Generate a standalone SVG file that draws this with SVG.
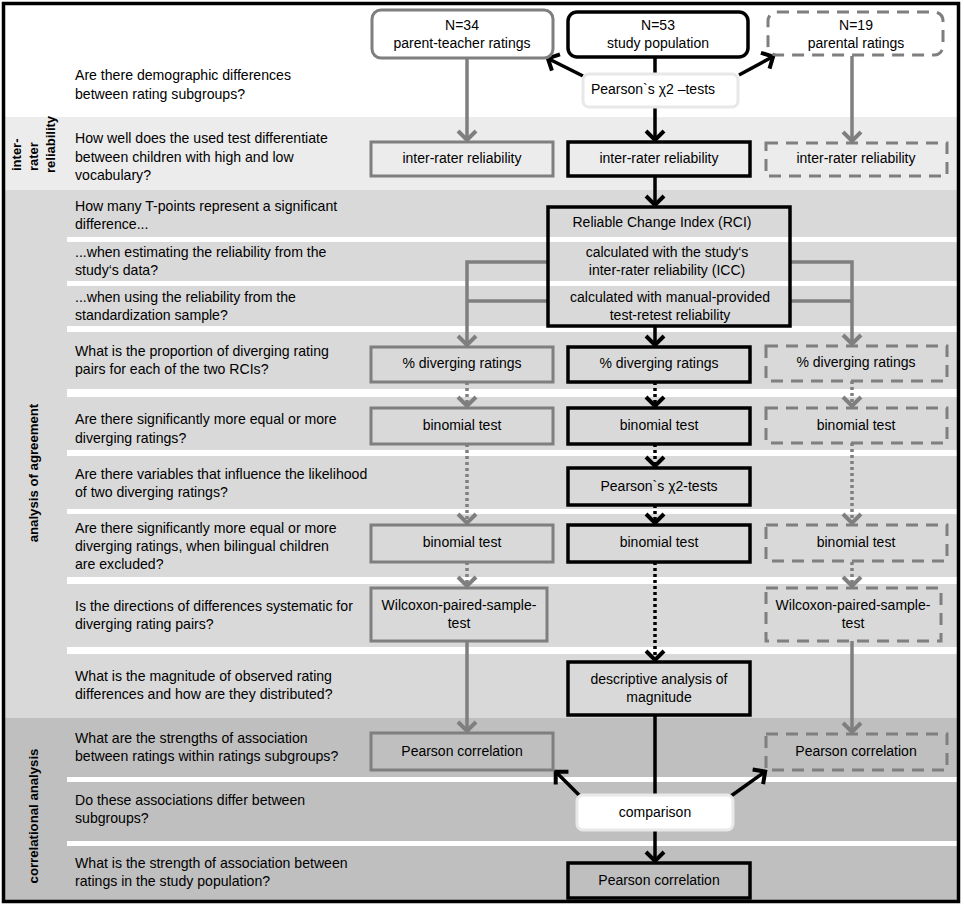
<svg xmlns="http://www.w3.org/2000/svg" width="964" height="908" viewBox="0 0 964 908">
<defs>
<style>
.q{font-family:"Liberation Sans",Arial,sans-serif;font-size:14.1px;fill:#000}
.t{font-family:"Liberation Sans",Arial,sans-serif;font-size:14px;fill:#000;text-anchor:middle}
.lab{font-family:"Liberation Sans",Arial,sans-serif;font-weight:bold;fill:#000}
.bk{fill:none;stroke:#000;stroke-width:3.5}
.gy{fill:none;stroke:#7f7f7f;stroke-width:3}
.ds{fill:none;stroke:#7f7f7f;stroke-width:3;stroke-dasharray:12 8}
.wb{fill:#fff;stroke:#e8e8e8;stroke-width:3}
.cb{fill:none;stroke:#000;stroke-width:3.5}
.cg{fill:none;stroke:#7f7f7f;stroke-width:3.5}
.dot{stroke-dasharray:3 3}
.strip{fill:#fff}
</style>
<marker id="ab" markerUnits="userSpaceOnUse" markerWidth="16" markerHeight="22" refX="12" refY="10" orient="auto" overflow="visible">
<path d="M2,1 L11,10 L2,19" fill="none" stroke="#000" stroke-width="4"/>
</marker>
<marker id="ag" markerUnits="userSpaceOnUse" markerWidth="16" markerHeight="22" refX="12" refY="10" orient="auto" overflow="visible">
<path d="M2,1 L11,10 L2,19" fill="none" stroke="#7f7f7f" stroke-width="4"/>
</marker>
</defs>

<g id="background">
<rect x="4" y="4" width="954" height="113" fill="#ffffff"/>
<rect x="4" y="117" width="954" height="73" fill="#ececec"/>
<rect x="4" y="190" width="954" height="528" fill="#d9d9d9"/>
<rect x="4" y="718" width="954" height="183" fill="#bfbfbf"/>
<rect class="strip" x="67" y="237" width="891" height="5"/>
<rect class="strip" x="67" y="281" width="891" height="5"/>
<rect class="strip" x="67" y="326" width="891" height="6"/>
<rect class="strip" x="67" y="389" width="891" height="8"/>
<rect class="strip" x="67" y="450" width="891" height="6"/>
<rect class="strip" x="67" y="509" width="891" height="5"/>
<rect class="strip" x="67" y="577" width="891" height="7"/>
<rect class="strip" x="67" y="647" width="891" height="7"/>
<rect class="strip" x="67" y="777" width="891" height="5"/>
<rect class="strip" x="67" y="841" width="891" height="5"/>
<rect x="3.5" y="3.5" width="955" height="898" fill="none" stroke="#000" stroke-width="3.5"/>
</g>

<g id="section-labels">
<text class="lab" font-size="13" transform="rotate(-90)" x="-171" y="21">inter-</text>
<text class="lab" font-size="13" transform="rotate(-90)" x="-171" y="38">rater</text>
<text class="lab" font-size="13" transform="rotate(-90)" x="-173" y="55">reliability</text>
<text class="lab" font-size="13.2" text-anchor="middle" transform="rotate(-90)" x="-473" y="38">analysis of agreement</text>
<text class="lab" font-size="13.2" text-anchor="middle" transform="rotate(-90)" x="-816" y="38">correlational analysis</text>
</g>

<g id="questions">
<text class="q" x="75" y="80">Are there demographic differences</text>
<text class="q" x="75" y="99">between rating subgroups?</text>
<text class="q" x="75" y="143">How well does the used test differentiate</text>
<text class="q" x="75" y="162">between children with high and low</text>
<text class="q" x="75" y="180">vocabulary?</text>
<text class="q" x="75" y="211">How many T-points represent a significant</text>
<text class="q" x="75" y="229">difference...</text>
<text class="q" x="75" y="257">...when estimating the reliability from the</text>
<text class="q" x="75" y="275">study‘s data?</text>
<text class="q" x="75" y="302">...when using the reliability from the</text>
<text class="q" x="75" y="320">standardization sample?</text>
<text class="q" x="75" y="356">What is the proportion of diverging rating</text>
<text class="q" x="75" y="374">pairs for each of the two RCIs?</text>
<text class="q" x="75" y="424">Are there significantly more equal or more</text>
<text class="q" x="75" y="443">diverging ratings?</text>
<text class="q" x="75" y="479">Are there variables that influence the likelihood</text>
<text class="q" x="75" y="497">of two diverging ratings?</text>
<text class="q" x="75" y="533">Are there significantly more equal or more</text>
<text class="q" x="75" y="551">diverging ratings, when bilingual children</text>
<text class="q" x="75" y="569">are excluded?</text>
<text class="q" x="75" y="611">Is the directions of differences systematic for</text>
<text class="q" x="75" y="629">diverging rating pairs?</text>
<text class="q" x="75" y="681">What is the magnitude of observed rating</text>
<text class="q" x="75" y="699">differences and how are they distributed?</text>
<text class="q" x="75" y="743">What are the strengths of association</text>
<text class="q" x="75" y="761">between ratings within ratings subgroups?</text>
<text class="q" x="75" y="805">Do these associations differ between</text>
<text class="q" x="75" y="823">subgroups?</text>
<text class="q" x="75" y="868">What is the strength of association between</text>
<text class="q" x="75" y="886">ratings in the study population?</text>
</g>

<g id="connectors">
<line class="cg" x1="467" y1="58" x2="467" y2="141" marker-end="url(#ag)"/>
<line class="cg" x1="852" y1="56" x2="852" y2="142" marker-end="url(#ag)"/>
<line class="cb" x1="655" y1="57" x2="655" y2="74"/>
<line class="cb" x1="655" y1="107" x2="655" y2="141" marker-end="url(#ab)"/>
<line class="cb" x1="583" y1="76" x2="547" y2="58" marker-end="url(#ab)"/>
<line class="cb" x1="739" y1="75" x2="774" y2="56" marker-end="url(#ab)"/>
<line class="cb" x1="655" y1="176" x2="655" y2="206" marker-end="url(#ab)"/>
<polyline class="cg" points="548,262 467,262 467,346" marker-end="url(#ag)"/>
<line class="cg" x1="548" y1="301" x2="467" y2="301"/>
<polyline class="cg" points="790,262 852,262 852,345" marker-end="url(#ag)"/>
<line class="cg" x1="790" y1="301" x2="852" y2="301"/>
<line class="cb" x1="655" y1="326" x2="655" y2="346" marker-end="url(#ab)"/>
<line class="cg dot" x1="467" y1="382" x2="467" y2="407" marker-end="url(#ag)"/>
<line class="cb dot" x1="655" y1="382" x2="655" y2="407" marker-end="url(#ab)"/>
<line class="cg dot" x1="852" y1="381" x2="852" y2="407" marker-end="url(#ag)"/>
<line class="cb dot" x1="655" y1="444" x2="655" y2="467" marker-end="url(#ab)"/>
<line class="cb dot" x1="655" y1="505" x2="655" y2="524" marker-end="url(#ab)"/>
<line class="cg dot" x1="467" y1="444" x2="467" y2="524" marker-end="url(#ag)"/>
<line class="cg dot" x1="852" y1="443" x2="852" y2="524" marker-end="url(#ag)"/>
<line class="cg dot" x1="467" y1="562" x2="467" y2="587" marker-end="url(#ag)"/>
<line class="cg dot" x1="852" y1="562" x2="852" y2="587" marker-end="url(#ag)"/>
<line class="cb dot" x1="655" y1="562" x2="655" y2="661" marker-end="url(#ab)"/>
<line class="cg" x1="467" y1="641" x2="467" y2="732" marker-end="url(#ag)"/>
<line class="cg" x1="852" y1="641" x2="852" y2="733" marker-end="url(#ag)"/>
<line class="cb" x1="655" y1="715" x2="655" y2="795"/>
<line class="cb" x1="580" y1="796" x2="555" y2="771" marker-end="url(#ab)"/>
<line class="cb" x1="731" y1="796" x2="766" y2="771" marker-end="url(#ab)"/>
<line class="cb" x1="655" y1="830" x2="655" y2="862" marker-end="url(#ab)"/>
</g>

<g id="n34">
<rect class="gy" x="372" y="10" width="181" height="48" rx="9"/>
<text class="t" x="462" y="30">N=34</text>
<text class="t" x="462" y="48">parent-teacher ratings</text>
</g>
<g id="n53">
<rect class="bk" x="568" y="12" width="180" height="45" rx="9"/>
<text class="t" x="658" y="30">N=53</text>
<text class="t" x="658" y="48">study population</text>
</g>
<g id="n19">
<rect class="ds" x="768" y="12" width="175" height="43" rx="9"/>
<text class="t" x="856" y="30">N=19</text>
<text class="t" x="856" y="48">parental ratings</text>
</g>
<g id="chi-top">
<rect class="wb" x="583" y="74" width="155" height="33" rx="6"/>
<text class="t" x="653" y="94">Pearson`s χ2 –tests</text>
</g>

<g id="irr-left">
<rect class="gy" x="371" y="142" width="182" height="34"/>
<text class="t" x="462" y="163">inter-rater reliability</text>
</g>
<g id="irr-mid">
<rect class="bk" x="568" y="142" width="182" height="34"/>
<text class="t" x="659" y="163">inter-rater reliability</text>
</g>
<g id="irr-right">
<rect class="ds" x="766" y="143" width="181" height="33"/>
<text class="t" x="856" y="163">inter-rater reliability</text>
</g>

<g id="rci">
<rect class="bk" x="548" y="207" width="242" height="119"/>
<text class="t" x="662" y="227">Reliable Change Index (RCI)</text>
<text class="t" x="667" y="257">calculated with the study‘s</text>
<text class="t" x="667" y="275">inter-rater reliability (ICC)</text>
<text class="t" x="670" y="302">calculated with manual-provided</text>
<text class="t" x="670" y="320">test-retest reliability</text>
</g>

<g id="div-left">
<rect class="gy" x="371" y="347" width="182" height="35"/>
<text class="t" x="462" y="368">% diverging ratings</text>
</g>
<g id="div-mid">
<rect class="bk" x="568" y="347" width="182" height="35"/>
<text class="t" x="659" y="368">% diverging ratings</text>
</g>
<g id="div-right">
<rect class="ds" x="766" y="346" width="181" height="35"/>
<text class="t" x="856" y="367">% diverging ratings</text>
</g>

<g id="bin1-left">
<rect class="gy" x="371" y="408" width="182" height="36"/>
<text class="t" x="462" y="430">binomial test</text>
</g>
<g id="bin1-mid">
<rect class="bk" x="568" y="408" width="182" height="36"/>
<text class="t" x="659" y="430">binomial test</text>
</g>
<g id="bin1-right">
<rect class="ds" x="766" y="408" width="181" height="35"/>
<text class="t" x="856" y="430">binomial test</text>
</g>

<g id="chi-mid">
<rect class="bk" x="568" y="468" width="182" height="37"/>
<text class="t" x="659" y="491">Pearson`s χ2-tests</text>
</g>

<g id="bin2-left">
<rect class="gy" x="371" y="525" width="182" height="37"/>
<text class="t" x="462" y="547">binomial test</text>
</g>
<g id="bin2-mid">
<rect class="bk" x="568" y="525" width="182" height="37"/>
<text class="t" x="659" y="547">binomial test</text>
</g>
<g id="bin2-right">
<rect class="ds" x="766" y="525" width="181" height="36"/>
<text class="t" x="856" y="547">binomial test</text>
</g>

<g id="wil-left">
<rect class="gy" x="371" y="588" width="176" height="53"/>
<text class="t" x="459" y="610">Wilcoxon-paired-sample-</text>
<text class="t" x="459" y="628">test</text>
</g>
<g id="wil-right">
<rect class="ds" x="766" y="588" width="175" height="53"/>
<text class="t" x="853" y="610">Wilcoxon-paired-sample-</text>
<text class="t" x="853" y="628">test</text>
</g>

<g id="descriptive">
<rect class="bk" x="568" y="662" width="182" height="53"/>
<text class="t" x="659" y="684">descriptive analysis of</text>
<text class="t" x="659" y="702">magnitude</text>
</g>

<g id="pc-left">
<rect class="gy" x="371" y="733" width="182" height="37"/>
<text class="t" x="462" y="756">Pearson correlation</text>
</g>
<g id="pc-right">
<rect class="ds" x="766" y="734" width="181" height="36"/>
<text class="t" x="856" y="756">Pearson correlation</text>
</g>

<g id="comparison">
<rect class="wb" x="577" y="795" width="156" height="35" rx="6"/>
<text class="t" x="655" y="817">comparison</text>
</g>

<g id="pc-mid">
<rect class="bk" x="568" y="863" width="182" height="35"/>
<text class="t" x="659" y="885">Pearson correlation</text>
</g>
</svg>
